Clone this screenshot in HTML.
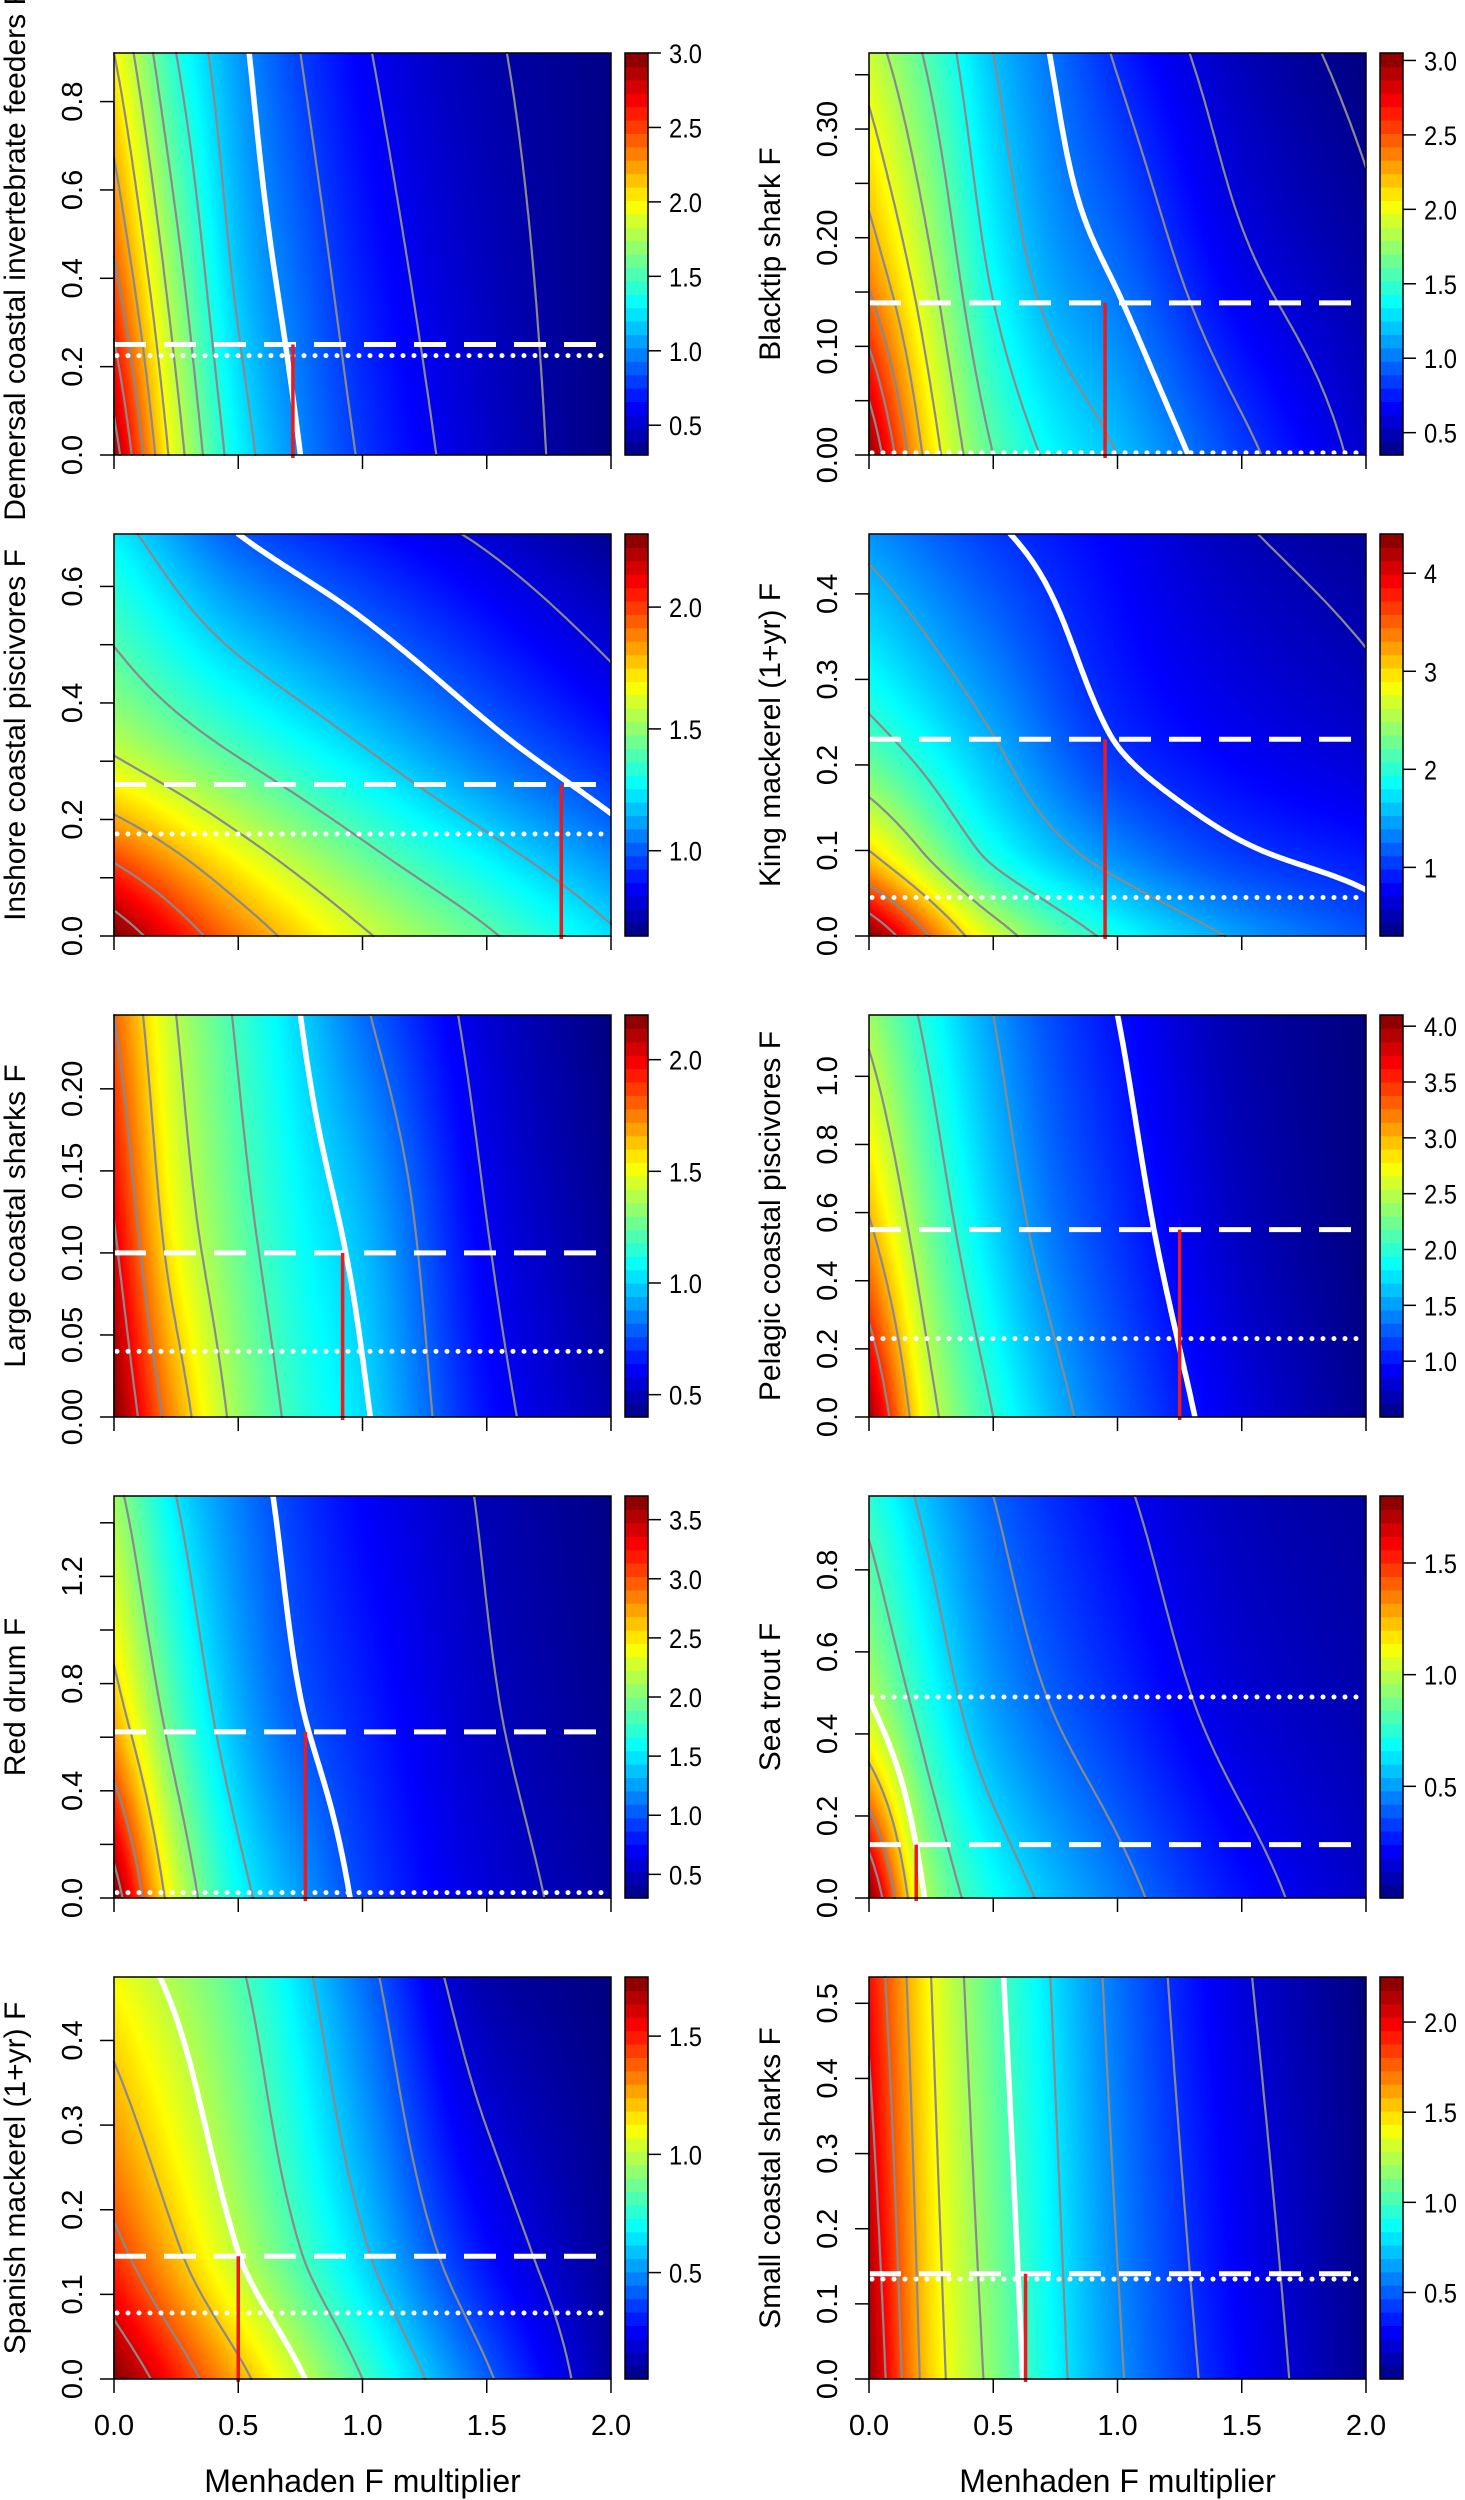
<!DOCTYPE html>
<html><head><meta charset="utf-8">
<style>
html,body{margin:0;padding:0;background:#fff;}
#wrap{position:relative;width:1465px;height:2500px;overflow:hidden;}
#heat{position:absolute;left:0;top:0;}
#ov{position:absolute;left:0;top:0;}
text{font-family:"Liberation Sans",sans-serif;fill:#000;}
</style></head>
<body>
<div id="wrap">
<canvas id="heat" width="1465" height="2500"></canvas>
<svg id="ov" width="1465" height="2500" xmlns="http://www.w3.org/2000/svg"></svg>
</div>
<script>
// ---- data ----
const titles = ["Demersal coastal invertebrate feeders F","Blacktip shark F","Inshore coastal piscivores F","King mackerel (1+yr) F","Large coastal sharks F","Pelagic coastal piscivores F","Red drum F","Sea trout F","Spanish mackerel (1+yr) F","Small coastal sharks F"];
const yMax = [0.91,0.37,0.69,0.47,0.245,1.18,1.5,0.98,0.475,0.535];
const yTickStep = [0.2,0.05,0.1,0.1,0.05,0.2,0.2,0.2,0.1,0.1];
const yLabelEvery = [1,2,2,1,1,1,2,1,1,1];
const yDecimals = [1,2,1,1,2,1,1,1,1,1];
const zLo = [0.3,0.35,0.65,0.3,0.4,0.5,0.3,0.0,0.05,0.02];
const zHi = [3.0,3.05,2.3,4.4,2.2,4.1,3.7,1.8,1.75,2.25];
const cbTicks = [[0.5,1.0,1.5,2.0,2.5,3.0],[0.5,1.0,1.5,2.0,2.5,3.0],[1.0,1.5,2.0],[1,2,3,4],[0.5,1.0,1.5,2.0],[1.0,1.5,2.0,2.5,3.0,3.5,4.0],[0.5,1.0,1.5,2.0,2.5,3.0,3.5],[0.5,1.0,1.5],[0.5,1.0,1.5],[0.5,1.0,1.5,2.0]];
const cbDecimals = [1,1,1,0,1,1,1,1,1,1];
const contourStep = [0.2,0.2,0.2,0.5,0.2,0.5,0.5,0.2,0.2,0.2];
const dashY = [0.25,0.14,0.26,0.23,0.10,0.55,0.62,0.13,0.145,0.14];
const dotY = [0.225,0.002,0.175,0.045,0.04,0.23,0.02,0.49,0.078,0.133];
const redX = [0.72,0.95,1.8,0.95,0.92,1.25,0.77,0.19,0.5,0.63];
const gridX = [
 [0,0.25,0.5,0.75,1,1.5,2],
 [0,0.25,0.5,0.75,1,1.5,2],
 [0,0.5,1,1.5,2],
 [0,0.5,1,1.5,2],
 [0,0.25,0.5,0.75,1,1.5,2],
 [0,0.25,0.5,0.75,1,1.5,2],
 [0,0.25,0.5,0.75,1,1.5,2],
 [0,0.25,0.5,1,1.5,2],
 [0,0.5,1,1.5,2],
 [0,0.25,0.5,0.75,1,1.5,2]];
const gridY = [
 [0,0.45,0.91],
 [0,0.185,0.37],
 [0,0.345,0.69],
 [0,0.1,0.235,0.47],
 [0,0.12,0.245],
 [0,0.59,1.18],
 [0,0.75,1.5],
 [0,0.49,0.98],
 [0,0.15,0.475],
 [0,0.535]];
const gridZ = [
 [[2.9,1.9,1.3,1.0,0.78,0.5,0.3],[2.4,1.65,1.15,0.9,0.7,0.46,0.31],[2.0,1.4,1.05,0.8,0.62,0.42,0.32]],
 [[3.0,2.1,1.6,1.35,1.2,0.85,0.55],[2.3,1.8,1.35,1.1,0.96,0.62,0.44],[1.9,1.55,1.2,0.98,0.78,0.5,0.35]],
 [[2.3,1.9,1.62,1.42,1.22],[1.55,1.35,1.18,1.02,0.88],[1.25,1.0,0.88,0.78,0.68]],
 [[4.4,2.7,1.9,1.45,1.15],[3.0,1.9,1.35,1.03,0.88],[2.1,1.5,0.98,0.75,0.6],[1.4,1.04,0.78,0.52,0.4]],
 [[2.2,1.7,1.35,1.15,1.02,0.65,0.48],[2.0,1.5,1.25,1.08,0.95,0.6,0.43],[1.8,1.4,1.18,1.0,0.82,0.55,0.4]],
 [[4.0,2.6,2.0,1.6,1.3,0.85,0.55],[3.0,2.2,1.7,1.35,1.12,0.72,0.5],[2.4,1.9,1.5,1.2,1.0,0.65,0.5]],
 [[3.7,2.3,1.6,1.25,0.95,0.6,0.4],[2.6,1.8,1.3,1.0,0.82,0.52,0.35],[2.1,1.5,1.15,0.9,0.72,0.48,0.32]],
 [[1.8,0.95,0.7,0.45,0.25,0.12],[1.0,0.7,0.5,0.3,0.15,0.08],[0.75,0.55,0.4,0.22,0.1,0.05]],
 [[1.75,1.25,0.8,0.42,0.1],[1.45,1.0,0.62,0.28,0.08],[1.1,0.82,0.45,0.12,0.05]],
 [[2.2,1.5,1.15,0.85,0.62,0.3,0.05],[1.95,1.4,1.05,0.78,0.55,0.22,0.02]]];
const xTicks = [0,0.5,1.0,1.5,2.0];

// ---- layout ----
const colLeft=[114,869], plotW=497, rowTop=[53,534,1015,1496,1977], plotH=402;
const NS="http://www.w3.org/2000/svg";
const svg=document.getElementById('ov');
const ctx=document.getElementById('heat').getContext('2d');

function jet(t){t=Math.max(0,Math.min(1,t));
 const c=v=>Math.round(255*Math.max(0,Math.min(1,v)));
 return [c(1.5-Math.abs(4*t-3)),c(1.5-Math.abs(4*t-2)),c(1.5-Math.abs(4*t-1))];}
function mcubic(xs,ys,x){const n=xs.length;
 if(x<=xs[0])return ys[0]; if(x>=xs[n-1])return ys[n-1];
 let k=0;while(k<n-2&&x>xs[k+1])k++;
 const h=xs[k+1]-xs[k],t=(x-xs[k])/h;
 if(n===2)return ys[0]*(1-t)+ys[1]*t;
 const d=[];for(let i=0;i<n-1;i++)d.push((ys[i+1]-ys[i])/(xs[i+1]-xs[i]));
 const sl=i=>{if(i===0)return d[0];if(i===n-1)return d[n-2];
  if(d[i-1]*d[i]<=0)return 0;const w1=2*(xs[i+1]-xs[i])+(xs[i]-xs[i-1]),w2=(xs[i+1]-xs[i])+2*(xs[i]-xs[i-1]);
  return (w1+w2)/(w1/d[i-1]+w2/d[i]);};
 const m0=sl(k),m1=sl(k+1),t2=t*t,t3=t2*t;
 return (2*t3-3*t2+1)*ys[k]+(t3-2*t2+t)*h*m0+(-2*t3+3*t2)*ys[k+1]+(t3-t2)*h*m1;}
function interp(p,x,y){const col=gridZ[p].map(r=>mcubic(gridX[p],r,x));return mcubic(gridY[p],col,y);}
function el(tag,attrs,parent){const e=document.createElementNS(NS,tag);for(const k in attrs)e.setAttribute(k,attrs[k]);(parent||svg).appendChild(e);return e;}

for(let p=0;p<10;p++){
 const col=p%2,row=Math.floor(p/2);
 const L=colLeft[col],T=rowTop[row],W=plotW,Hh=plotH;
 const sx=x=>L+x/2*W, sy=y=>T+Hh-y/yMax[p]*Hh;
 const g=el('g',{});
 
 
 const img=ctx.createImageData(W,Hh);
 const colVals=[];for(let px=0;px<W;px++){const x=(px+0.5)/W*2;colVals.push(gridZ[p].map(r=>mcubic(gridX[p],r,x)));}
 for(let py=0;py<Hh;py++){const y=(1-(py+0.5)/Hh)*yMax[p];
  for(let px=0;px<W;px++){const z=mcubic(gridY[p],colVals[px],y);
   const c=jet((z-zLo[p])/(zHi[p]-zLo[p]));const k=(py*W+px)*4;
   img.data[k]=c[0];img.data[k+1]=c[1];img.data[k+2]=c[2];img.data[k+3]=255;}}
 ctx.putImageData(img,L,T);
 const nx=120,ny=100,V=[];
 for(let j=0;j<=ny;j++){V.push([]);for(let i=0;i<=nx;i++)V[j].push(interp(p,i/nx*2,j/ny*yMax[p]));}
 const levels=[];for(let lv=contourStep[p];lv<zHi[p]+0.01;lv+=contourStep[p])levels.push(Math.round(lv*100)/100);
 function contourPath(lv){let d='';
  for(let j=0;j<ny;j++)for(let i=0;i<nx;i++){
   const c=[[i,j],[i+1,j],[i+1,j+1],[i,j+1]];const v=c.map(q=>V[q[1]][q[0]]);const pts=[];
   for(let e=0;e<4;e++){const a=v[e],b=v[(e+1)%4];if((a<lv)!==(b<lv)){const t=(lv-a)/(b-a);
    const xi=c[e][0]+(c[(e+1)%4][0]-c[e][0])*t, yj=c[e][1]+(c[(e+1)%4][1]-c[e][1])*t;
    pts.push([sx(xi/nx*2),sy(yj/ny*yMax[p])]);}}
   for(let k=0;k+1<pts.length;k+=2)d+='M'+pts[k][0].toFixed(1)+' '+pts[k][1].toFixed(1)+'L'+pts[k+1][0].toFixed(1)+' '+pts[k+1][1].toFixed(1);}
  return d;}
 levels.forEach(lv=>{if(Math.abs(lv-1)<1e-6)return;const d=contourPath(lv);if(!d)return;
  const e=el('path',{d:d,stroke:'#8a8a8a','stroke-width':2.2,fill:'none','stroke-linecap':'round'},g);
  
  });
 const wd=contourPath(1);
 const wl=el('path',{d:wd,stroke:'#fff','stroke-width':5.5,fill:'none','stroke-linecap':'round'},g);
 
 
 const dl=el('line',{x1:L,x2:L+W,y1:sy(dashY[p]),y2:sy(dashY[p]),stroke:'#fff','stroke-width':5,'stroke-dasharray':'32 18'},g);
 
 
 const ot=el('line',{x1:L+3,x2:L+W,y1:sy(dotY[p]),y2:sy(dotY[p]),stroke:'#fff','stroke-width':5,'stroke-dasharray':'0 11','stroke-linecap':'round'},g);
 
 
 const rl=el('line',{x1:sx(redX[p]),x2:sx(redX[p]),y1:sy(dashY[p]),y2:T+Hh+3,stroke:'#f01818','stroke-width':3.5},g);
 
 
 const fr=el('rect',{x:L,y:T,width:W,height:Hh,fill:'none',stroke:'#000','stroke-width':1.5},g);
 
 
 xTicks.forEach(v=>{const t=el('line',{x1:sx(v),x2:sx(v),y1:T+Hh,y2:T+Hh+14,stroke:'#000','stroke-width':1.5},g);
  
  
  if(row===4){const tx=el('text',{x:sx(v),y:T+Hh+56,'font-size':29,'text-anchor':'middle'},g);tx.textContent=v.toFixed(1);
   
   }});
 const nT=Math.floor(yMax[p]/yTickStep[p]+1e-6);
 for(let k=0;k<=nT;k++){const v=k*yTickStep[p];
  const t=el('line',{x1:L-14,x2:L,y1:sy(v),y2:sy(v),stroke:'#000','stroke-width':1.5},g);
  
  
  if(k%yLabelEvery[p]===0){const tx=el('text',{x:0,y:0,'font-size':29,'text-anchor':'middle',transform:'translate('+(L-32)+','+sy(v)+') rotate(-90)'},g);
   tx.textContent=v.toFixed(yDecimals[p]);
   
   }}
 const yl=el('line',{x1:L,x2:L,y1:T+Hh,y2:sy(nT*yTickStep[p]),stroke:'#000','stroke-width':1.5},g);
 
 
 const yt=el('text',{x:0,y:0,'font-size':30,'text-anchor':'middle',transform:'translate('+(L-89)+','+(T+Hh/2)+') rotate(-90)'},g);
 yt.textContent=titles[p];
 
 
 const cbx=L+511,cbw=23,nb=30;
 for(let b=0;b<nb;b++){const c=jet((b+0.5)/nb);
  const r=el('rect',{x:cbx,y:T+Hh-(b+1)*Hh/nb,width:cbw,height:Hh/nb+0.6,fill:'rgb('+c.join(',')+')'},g);
  
  }
 const cf=el('rect',{x:cbx,y:T,width:cbw,height:Hh,fill:'none',stroke:'#000','stroke-width':1.5},g);
 
 
 cbTicks[p].forEach(v=>{const yy=T+Hh-(v-zLo[p])/(zHi[p]-zLo[p])*Hh;
  const t=el('line',{x1:cbx+cbw,x2:cbx+cbw+13,y1:yy,y2:yy,stroke:'#000','stroke-width':1.5},g);
  
  
  const tx=el('text',{x:cbx+cbw+21,y:yy+10,'font-size':27,textLength:cbDecimals[p]?33:13,lengthAdjust:'spacingAndGlyphs'},g);
  tx.textContent=v.toFixed(cbDecimals[p]);
  
  });
}
[0,1].forEach(c=>{const t=el('text',{x:colLeft[c]+plotW/2,y:2492,'font-size':32,'text-anchor':'middle'});
 t.textContent='Menhaden F multiplier';
 
 });
</script>
</body></html>
